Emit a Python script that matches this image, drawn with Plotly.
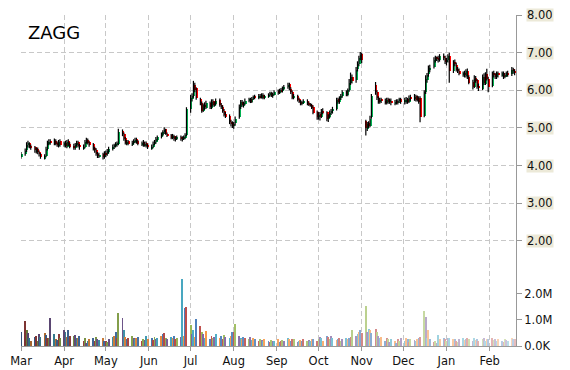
import pandas as pd
import plotly.graph_objects as go

ticker = "ZAGG"
start_date = "2013-03-01"

# Daily OHLC (Mar 2013 .. Feb 2014), one line per month
open_ = [
    4.22,4.30,4.40,4.55,4.60,4.52,4.50,4.38,4.45,4.36,4.30,4.20,4.26,4.44,4.58,4.66,4.58,4.66,4.60,4.52,4.64,
    4.55,4.60,4.50,4.64,4.56,4.52,4.46,4.54,4.62,4.54,4.46,4.50,4.62,4.68,4.62,4.56,4.46,4.42,4.32,4.24,4.30,4.22,
    4.34,4.30,4.36,4.46,4.50,4.54,4.56,4.58,4.92,4.84,4.72,4.58,4.64,4.56,4.60,4.64,4.70,4.64,4.56,4.62,4.54,4.60,4.54,
    4.46,4.50,4.58,4.62,4.70,4.76,4.82,4.88,4.96,4.84,4.80,4.74,4.78,4.68,4.72,4.76,4.70,4.72,4.74,4.82,
    5.50,5.78,5.86,6.15,6.05,5.78,5.66,5.46,5.62,5.54,5.66,5.54,5.72,5.60,5.64,5.74,5.62,5.56,5.46,5.36,5.32,5.16,5.12,
    5.04,5.12,5.28,5.56,5.70,5.58,5.64,5.72,5.76,5.70,5.78,5.84,5.80,5.86,5.80,5.88,5.80,5.84,5.88,5.92,5.84,5.90,
    5.96,5.94,6.02,5.98,6.04,6.08,6.16,6.04,5.96,5.80,5.86,5.76,5.70,5.64,5.68,5.72,5.66,5.62,5.60,5.56,5.42,
    5.30,5.36,5.30,5.46,5.42,5.24,5.30,5.40,5.44,5.50,5.76,5.70,5.80,5.86,5.96,5.88,6.00,6.20,6.36,6.26,6.56,6.70,6.86,
    6.96,5.18,4.98,5.12,5.06,5.28,6.15,5.96,5.80,5.70,5.76,5.72,5.66,5.76,5.70,5.72,5.64,5.70,5.66,5.72,5.76,
    5.70,5.70,5.76,5.70,5.82,5.76,5.84,5.74,5.80,5.80,5.32,5.96,6.28,6.42,6.54,6.62,6.80,6.86,6.86,6.80,6.92,6.86,
    6.74,6.80,6.92,6.52,6.76,6.68,6.56,6.50,6.42,6.46,6.38,6.52,6.36,6.22,6.10,6.32,6.26,6.12,6.04,6.36,6.18,6.42,6.30,
    6.12,6.46,6.42,6.36,6.46,6.40,6.46,6.36,6.40,6.46,6.42,6.56,6.52,
]
high = [
    4.36,4.45,4.62,4.66,4.62,4.56,4.52,4.48,4.48,4.40,4.33,4.30,4.50,4.66,4.70,4.70,4.72,4.70,4.64,4.68,4.70,
    4.64,4.66,4.68,4.70,4.62,4.58,4.60,4.66,4.66,4.58,4.56,4.68,4.74,4.72,4.66,4.60,4.50,4.46,4.36,4.34,4.34,4.38,
    4.40,4.44,4.50,4.56,4.58,4.62,4.64,4.98,4.96,4.88,4.76,4.68,4.68,4.66,4.70,4.74,4.74,4.68,4.64,4.68,4.64,4.64,4.58,
    4.56,4.64,4.68,4.76,4.80,4.88,4.94,5.02,4.98,4.88,4.84,4.84,4.82,4.78,4.80,4.80,4.78,4.80,4.86,5.55,
    5.88,5.92,6.25,6.20,6.08,5.80,5.70,5.65,5.68,5.72,5.70,5.76,5.76,5.70,5.78,5.78,5.66,5.60,5.50,5.42,5.36,5.22,5.18,
    5.16,5.30,5.62,5.74,5.74,5.70,5.78,5.80,5.80,5.82,5.86,5.88,5.90,5.90,5.92,5.92,5.88,5.92,5.96,5.96,5.94,6.00,
    6.02,6.04,6.06,6.10,6.14,6.20,6.20,6.08,6.00,5.90,5.88,5.80,5.74,5.72,5.76,5.76,5.70,5.66,5.64,5.60,5.46,
    5.42,5.42,5.50,5.52,5.44,5.36,5.46,5.50,5.56,5.80,5.80,5.84,5.90,6.00,6.00,6.05,6.30,6.47,6.42,6.62,6.77,6.92,7.02,
    7.00,5.22,5.16,5.18,5.32,5.90,6.22,6.00,5.84,5.80,5.80,5.78,5.80,5.80,5.78,5.78,5.74,5.76,5.76,5.80,5.80,
    5.80,5.82,5.80,5.86,5.88,5.90,5.88,5.86,5.84,5.84,6.00,6.40,6.46,6.66,6.68,6.88,6.92,6.90,6.92,6.96,6.98,6.92,
    6.86,6.96,7.00,6.80,6.82,6.74,6.62,6.58,6.50,6.52,6.56,6.58,6.40,6.28,6.40,6.38,6.30,6.18,6.42,6.45,6.48,6.57,6.36,
    6.50,6.52,6.46,6.50,6.50,6.50,6.50,6.46,6.50,6.52,6.62,6.60,6.56,
]
low = [
    4.18,4.26,4.36,4.48,4.46,4.42,4.34,4.32,4.30,4.24,4.18,4.16,4.22,4.40,4.54,4.55,4.54,4.54,4.50,4.48,4.50,
    4.50,4.48,4.46,4.52,4.46,4.42,4.42,4.50,4.48,4.42,4.42,4.46,4.58,4.56,4.50,4.40,4.34,4.26,4.20,4.20,4.16,4.18,
    4.22,4.26,4.32,4.40,4.44,4.48,4.50,4.54,4.78,4.66,4.56,4.54,4.54,4.52,4.56,4.60,4.58,4.54,4.52,4.50,4.50,4.48,4.44,
    4.42,4.46,4.54,4.58,4.66,4.72,4.78,4.84,4.82,4.76,4.70,4.70,4.66,4.64,4.68,4.66,4.64,4.68,4.70,4.78,
    5.40,5.70,5.80,5.95,5.75,5.60,5.40,5.42,5.48,5.50,5.50,5.50,5.56,5.56,5.60,5.56,5.50,5.40,5.30,5.26,5.10,5.04,5.00,
    4.98,5.06,5.24,5.50,5.56,5.54,5.60,5.68,5.66,5.66,5.74,5.76,5.76,5.78,5.78,5.76,5.76,5.80,5.84,5.82,5.80,5.86,
    5.88,5.90,5.94,5.94,6.00,6.04,6.00,5.90,5.76,5.76,5.70,5.66,5.60,5.60,5.64,5.60,5.58,5.56,5.50,5.36,5.22,
    5.22,5.20,5.26,5.36,5.18,5.16,5.26,5.34,5.38,5.46,5.64,5.64,5.74,5.80,5.84,5.84,5.96,6.14,6.18,6.20,6.50,6.64,6.80,
    6.72,4.80,4.92,5.00,5.02,5.24,5.88,5.74,5.64,5.64,5.66,5.62,5.62,5.64,5.64,5.60,5.60,5.62,5.62,5.66,5.64,
    5.62,5.64,5.64,5.66,5.72,5.72,5.70,5.70,5.64,5.15,5.28,5.90,6.20,6.36,6.48,6.58,6.74,6.78,6.74,6.76,6.80,6.70,
    6.66,6.74,6.20,6.46,6.64,6.50,6.46,6.40,6.36,6.34,6.34,6.30,6.16,6.02,6.06,6.20,6.04,5.98,6.00,6.14,6.14,6.26,5.95,
    6.08,6.34,6.30,6.30,6.34,6.36,6.30,6.32,6.36,6.36,6.38,6.44,6.40,
]
close = [
    4.30,4.38,4.55,4.58,4.50,4.48,4.40,4.42,4.35,4.30,4.22,4.25,4.45,4.60,4.62,4.60,4.65,4.58,4.55,4.62,4.55,
    4.58,4.52,4.62,4.55,4.50,4.48,4.55,4.60,4.52,4.48,4.50,4.62,4.65,4.60,4.55,4.45,4.40,4.30,4.25,4.28,4.22,4.32,
    4.30,4.38,4.45,4.50,4.52,4.55,4.58,4.90,4.85,4.70,4.60,4.62,4.58,4.60,4.65,4.68,4.62,4.58,4.60,4.55,4.58,4.52,4.50,
    4.50,4.58,4.62,4.70,4.75,4.82,4.88,4.95,4.85,4.80,4.75,4.78,4.70,4.72,4.75,4.70,4.72,4.75,4.80,5.50,
    5.80,5.85,6.10,6.00,5.80,5.65,5.45,5.60,5.55,5.65,5.55,5.70,5.60,5.65,5.72,5.60,5.55,5.45,5.35,5.30,5.15,5.10,5.05,
    5.10,5.25,5.55,5.68,5.60,5.65,5.72,5.75,5.70,5.78,5.82,5.80,5.85,5.82,5.88,5.80,5.85,5.88,5.92,5.85,5.90,5.95,
    5.95,6.00,5.98,6.05,6.10,6.15,6.05,5.95,5.80,5.85,5.75,5.70,5.65,5.68,5.72,5.65,5.62,5.60,5.55,5.40,5.30,
    5.35,5.30,5.45,5.40,5.25,5.30,5.40,5.45,5.50,5.75,5.70,5.80,5.85,5.95,5.90,6.00,6.20,6.35,6.25,6.55,6.70,6.85,6.95,
    6.80,5.00,5.10,5.05,5.25,5.85,5.95,5.80,5.70,5.75,5.72,5.68,5.75,5.70,5.72,5.65,5.70,5.68,5.72,5.75,5.70,
    5.72,5.75,5.70,5.80,5.78,5.82,5.75,5.80,5.70,5.30,5.95,6.30,6.40,6.55,6.60,6.80,6.85,6.85,6.80,6.90,6.85,6.75,
    6.80,6.90,6.50,6.75,6.70,6.55,6.50,6.45,6.45,6.40,6.50,6.35,6.20,6.10,6.30,6.25,6.10,6.05,6.35,6.20,6.40,6.30,6.10,
    6.45,6.40,6.35,6.45,6.40,6.45,6.35,6.40,6.45,6.42,6.55,6.50,6.45,
]
# Daily volume, millions of shares
volume = [
    0.55,0.95,0.60,0.50,0.30,0.20,0.35,0.38,0.20,0.45,0.35,0.50,0.42,0.30,0.30,1.08,0.45,0.25,0.22,0.45,0.30,
    0.60,0.55,0.35,0.60,0.40,0.38,0.42,0.30,0.32,0.40,0.20,0.30,0.12,0.20,0.25,0.30,0.20,0.35,0.28,0.22,0.30,0.18,
    0.20,0.15,0.28,0.35,0.40,0.55,0.30,1.27,1.08,0.62,0.35,0.25,0.30,0.38,0.32,0.25,0.30,0.35,0.20,0.28,0.22,0.40,0.25,
    0.30,0.22,0.35,0.28,0.32,0.40,0.45,0.50,0.30,0.25,0.35,0.30,0.40,0.28,0.32,0.35,2.55,0.40,1.45,1.48,
    0.80,0.45,0.60,0.35,1.02,0.75,0.55,0.45,0.30,0.57,0.25,0.40,0.30,0.35,0.45,0.30,0.38,0.25,0.42,0.35,0.30,0.40,0.55,
    0.55,0.85,0.40,0.30,0.25,0.35,0.30,0.28,0.35,0.22,0.30,0.25,0.20,0.28,0.22,0.18,0.25,0.20,0.15,0.22,0.18,0.20,
    0.25,0.15,0.20,0.22,0.18,0.30,0.25,0.20,0.28,0.25,0.15,0.20,0.22,0.18,0.25,0.20,0.22,0.18,0.25,0.28,0.20,
    0.25,0.35,0.30,0.20,0.38,0.35,0.28,0.38,0.30,0.22,0.25,0.30,0.20,0.25,0.30,0.28,0.32,0.35,0.60,0.38,0.45,0.55,0.60,
    0.50,1.53,0.55,0.65,0.60,0.50,0.65,0.55,0.40,0.30,0.35,0.20,0.30,0.25,0.15,0.28,0.20,0.12,0.25,0.18,0.30,
    0.20,0.30,0.25,0.15,0.28,0.22,0.18,0.25,0.30,0.35,1.34,1.10,0.30,0.61,0.25,0.15,0.20,0.12,0.42,0.25,0.30,0.28,
    0.20,0.32,0.30,0.25,0.28,0.20,0.15,0.25,0.30,0.22,0.28,0.32,0.25,0.20,0.30,0.22,0.28,0.18,0.25,0.30,0.20,0.28,0.25,
    0.30,0.22,0.25,0.18,0.28,0.20,0.15,0.25,0.22,0.18,0.30,0.25,0.28,
]
price_ticks = [2, 3, 4, 5, 6, 7, 8]
vol_ticks = [0, 1, 2]
vol_tick_text = ["0.0K", "1.0M", "2.0M"]

n = len(close)
assert len(open_) == n and len(high) == n and len(low) == n and len(volume) == n
dates = pd.bdate_range(start=start_date, periods=n)

FONT = "DejaVu Sans"
UP, DOWN = "#00B050", "#FF0000"
palette = ["#4F81BD", "#C0504D", "#9BBB59", "#8064A2", "#4BACC6", "#F79646"]


def hex2rgb(h):
    return tuple(int(h[i:i + 2], 16) for i in (1, 3, 5))


def vol_color(i):
    r, g, b = hex2rgb(palette[i % len(palette)])
    t = i / (n - 1)
    if t < 0.35:
        k = 0.35 * (1 - t / 0.35)  # darker early bars
        r, g, b = r * (1 - k), g * (1 - k), b * (1 - k)
    else:
        k = 0.62 * (t - 0.35) / 0.65  # paler later bars
        r, g, b = r + (255 - r) * k, g + (255 - g) * k, b + (255 - b) * k
    return f"rgb({int(r)},{int(g)},{int(b)})"


day_ms = 86400000
fig = go.Figure()

# volume bars
fig.add_trace(go.Bar(
    x=dates, y=volume, yaxis="y2", width=0.7 * day_ms,
    marker=dict(color=[vol_color(i) for i in range(n)], line=dict(width=0)),
    showlegend=False, hoverinfo="skip"))

# candle bodies
up_idx = [i for i in range(n) if close[i] >= open_[i]]
dn_idx = [i for i in range(n) if close[i] < open_[i]]
for idx, col in ((up_idx, UP), (dn_idx, DOWN)):
    fig.add_trace(go.Bar(
        x=[dates[i] for i in idx],
        base=[min(open_[i], close[i]) for i in idx],
        y=[max(abs(close[i] - open_[i]), 0.03) for i in idx],
        width=0.8 * day_ms, offset=0.1 * day_ms,
        marker=dict(color=col, line=dict(width=0)),
        showlegend=False, hoverinfo="skip"))

# wicks
wx, wy = [], []
for i in range(n):
    wx += [dates[i], dates[i], None]
    wy += [low[i], high[i], None]
fig.add_trace(go.Scatter(x=wx, y=wy, mode="lines",
                         line=dict(color="#000000", width=1.2),
                         showlegend=False, hoverinfo="skip"))

grid = dict(gridcolor="#C8C8C8", griddash="5px,3px", gridwidth=1)

fig.update_layout(
    width=570, height=370,
    margin=dict(l=21, r=54, t=15, b=24, autoexpand=False),
    paper_bgcolor="white", plot_bgcolor="white",
    barmode="overlay", bargap=0,
    font=dict(family=FONT, size=11.5, color="#111111"),
    xaxis=dict(type="date", range=["2013-03-01", "2014-02-20"],
               dtick="M1", tick0="2013-03-01", tickformat="%b",
               showgrid=True, **grid, automargin=False,
               ticks="outside", ticklen=4, tickcolor="#999999",
               showline=True, linecolor="#999999", linewidth=1,
               zeroline=False, tickfont=dict(family=FONT, size=11.5, color="#111111")),
    yaxis=dict(side="right", range=[-0.795, 8.0], tickvals=price_ticks,
               showticklabels=False, showgrid=True, **grid, automargin=False,
               ticks="outside", ticklen=5, tickcolor="#999999",
               showline=True, linecolor="#999999", linewidth=1, zeroline=False),
    yaxis2=dict(side="right", overlaying="y", range=[0, 12.62],
                tickvals=vol_ticks, ticktext=vol_tick_text, automargin=False,
                showgrid=False, zeroline=False, showline=False,
                ticks="outside", ticklen=5, tickcolor="#999999",
                tickfont=dict(family=FONT, size=11.5, color="#111111")),
)

for v in price_ticks:
    fig.add_annotation(x=1, xref="paper", y=v, yref="y", xanchor="left",
                       xshift=10, text=f"{v:.2f}", showarrow=False,
                       bgcolor="#ECE9D8", borderpad=0, height=12,
                       font=dict(family=FONT, size=11.5, color="#111111"))

fig.add_annotation(x=0, xref="paper", y=0.947, yref="paper", xanchor="left",
                   yanchor="middle", xshift=5, text=ticker, showarrow=False,
                   font=dict(family=FONT, size=18, color="#000000"))

fig.write_html("out.html")
